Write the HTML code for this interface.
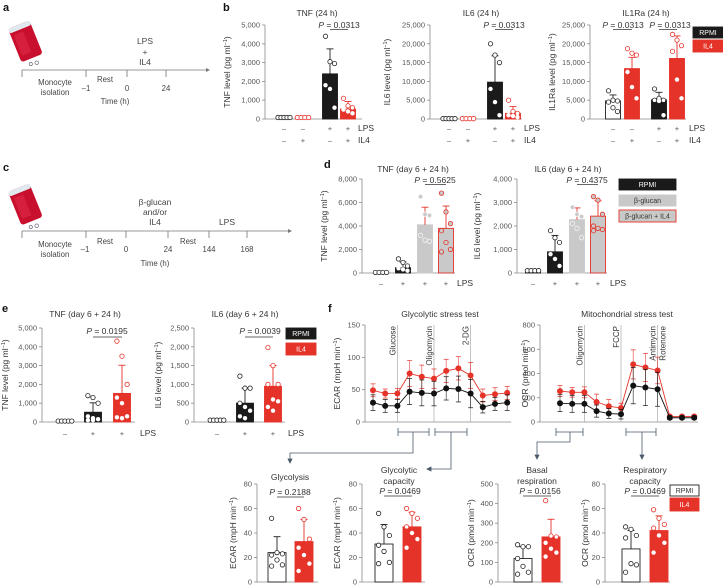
<!DOCTYPE html>
<html><head><meta charset="utf-8"><style>
html,body{margin:0;padding:0;background:#fff;}
svg{display:block;font-family:"Liberation Sans",sans-serif;}
</style></head><body>
<svg id="fig" xmlns="http://www.w3.org/2000/svg" width="723" height="585" viewBox="0 0 723 585"></svg>
<script>
// ---------- DATA ----------
const bTnfVals=[80,80,2400,530], bTnfErr=[0,0,1330,400];
const bTnfDots=[[80,80,80,80,80],[80,80,80,80],[4400,3050,2950,1800,1600,600],[1100,700,600,500,400,300]];
const bIl6Vals=[100,100,9800,1500], bIl6Err=[0,0,7000,1800];
const bIl6Dots=[[100,100,100,100,100],[100,100,100,100],[20000,17000,15000,8000,4500,1000],[5000,2000,1500,1000,800,500]];
const bIl1Vals=[4800,13400,5100,16100], bIl1Err=[1600,3000,2000,6000];
const bIl1Dots=[[7500,5000,4800,4500,3000,2000],[18700,17500,17000,12500,8500,5500],[8000,5500,5000,5000,4800,1000],[22500,21000,19500,18000,10500,5500]];
const bTicks5k=[0,1000,2000,3000,4000,5000], bTicks25k=[0,5000,10000,15000,20000,25000];
const bLps=['-','-','+','+'], bIl4=['-','+','-','+'];
const dTnfVals=[50,450,4100,3800], dTnfErr=[0,500,1500,1900];
const dTnfDots=[[50,50,50,50],[1200,900,600,400,300,200],[6500,5000,4900,3200,2800,2700],[6800,5200,4200,3600,2600,2000,1800]];
const dIl6Vals=[100,900,2270,2420], dIl6Err=[0,700,500,650];
const dIl6Dots=[[100,100,100,100],[1800,1500,1300,800,600,300],[2800,2500,2400,2100,1900,1500],[3250,3100,2500,2000,1900,1850,1800]];
const dTicksT=[0,2000,4000,6000,8000], dTicksI=[0,1000,2000,3000,4000];
const dLps=['-','+','+','+'];
const eTnfVals=[50,520,1520], eTnfErr=[0,500,1500];
const eTnfDots=[[50,50,50,50,50],[1400,1300,1000,300,200,150,100,100],[4300,3500,2000,1300,1000,300,250,200]];
const eIl6Vals=[50,500,950], eIl6Err=[0,400,550];
const eIl6Dots=[[50,50,50,50,50],[1220,900,900,500,400,300,150,100],[1980,1500,1000,1000,600,550,400,300]];
const eTicksT=[0,1000,2000,3000,4000,5000], eTicksI=[0,500,1000,1500,2000,2500];
const eLps=['-','+','+'];
const glyBlack=[30,25,25,47,45,44,52,51,44,23,28,30], glyBlackErr=[12,10,10,20,20,19,18,20,22,9,10,12];
const glyRed=[49,44,44,75,70,67,79,83,72,41,43,45], glyRedErr=[10,7,8,20,18,15,18,18,20,10,10,10];
const mitoBlack=[155,150,150,90,70,65,300,285,270,35,35,35], mitoBlackErr=[70,70,70,50,40,40,150,150,140,15,15,15];
const mitoRed=[255,245,245,165,130,115,475,450,425,45,45,45], mitoRedErr=[45,40,45,65,55,40,120,115,110,12,12,12];
const glyTicks=[0,50,100,150], mitoTicks=[0,200,400,600,800];
const gVals=[24,33], gErr=[13,18], gDots=[[52,24,23,22,18,14,13],[60,51,35,28,22,15,9]];
const gcVals=[31,45], gcErr=[16,12], gcDots=[[56,45,38,30,25,16,15],[60,56,52,45,40,35,28]];
const brVals=[120,230], brErr=[60,90], brDots=[[190,180,180,120,80,50,40],[415,235,230,200,170,150,130]];
const rcVals=[27,42], rcErr=[15,12], rcDots=[[45,43,38,36,15,14,8],[59,52,47,44,38,32,24]];
const t80=[0,20,40,60,80], t500=[0,100,200,300,400,500];

// ---------- HELPERS ----------
const NS='http://www.w3.org/2000/svg', svg=document.getElementById('fig');
const RED='#e5332a', GRAY='#c9c9c9', AX='#8a8a8a';
function mk(tag,a,p){const e=document.createElementNS(NS,tag);for(const k in a)e.setAttribute(k,a[k]);(p||svg).appendChild(e);return e;}
function tx(s,x,y,a,p){const e=mk('text',Object.assign({x:x,y:y,'font-size':8.5,fill:'#333'},a||{}),p);e.textContent=s;return e;}
function ytitle(p,main,x,y){const t=mk('text',{x:0,y:0,'font-size':8.5,fill:'#333','text-anchor':'middle',transform:`translate(${x},${y}) rotate(-90)`},p);
 
 
 t.appendChild(document.createTextNode(main));const s=mk('tspan',{'baseline-shift':'super','font-size':5.5},t);s.textContent='−1';t.appendChild(document.createTextNode(')'));}
function styleOf(s){return {wk:['#fff','#222'],wr:['#fff',RED],k:['#1a1a1a','#1a1a1a'],r:[RED,RED],g:[GRAY,GRAY],gr:[GRAY,RED]}[s];}
function fmt(v){return v.toLocaleString('en-US');}

function barChart(c){
 const g=mk('g',{});
 
 
 const sy=v=>c.y0-v/c.max*(c.y0-c.yTop);
 const ya=mk('line',{x1:c.ax,y1:c.yTop,x2:c.ax,y2:c.y0,stroke:AX,'stroke-width':0.8},g);
 
 
 const xa=mk('line',{x1:c.ax,y1:c.y0,x2:c.xEnd,y2:c.y0,stroke:AX,'stroke-width':0.8},g);
 
 
 c.ticks.forEach(v=>{const y=sy(v);mk('line',{x1:c.ax-3,y1:y,x2:c.ax,y2:y,stroke:AX,'stroke-width':0.8},g);
  const t=tx(fmt(v),c.ax-5,y+2.5,{'text-anchor':'end','font-size':7.5,fill:'#555'},g);
  
  });
 c.vals.forEach((v,i)=>{const x=c.xs[i],w=c.w,[f,s]=styleOf(c.styles[i]);
  const r=mk('rect',{x:x-w/2,y:sy(v),width:w,height:c.y0-sy(v),fill:f,stroke:s,'stroke-width':0.9},g);
  
  
  const e=c.errs[i];
  if(e>0){const ec=(c.styles[i]==='wk'||c.styles[i]==='k')?'#222':RED;
   mk('line',{x1:x,y1:sy(v),x2:x,y2:sy(v+e),stroke:ec,'stroke-width':0.9},g);
   mk('line',{x1:x-3.5,y1:sy(v+e),x2:x+3.5,y2:sy(v+e),stroke:ec,'stroke-width':0.9},g);}
  const ds=c.dots[i],n=ds.length,tiny=v<c.max*0.03;
  ds.forEach((d,j)=>{let dx=tiny?(-w/2+(j+0.5)*w/n):(((j%3)-1)*w*0.3);
   const filled=(c.styles[i]==='k'||c.styles[i]==='r')&&d<v*0.97;
   const dc=(c.styles[i]==='wk'||c.styles[i]==='k')?'#222':(c.styles[i]==='g'?'#e6e6e6':RED);
   const ci=mk('circle',{cx:x+dx,cy:sy(d),r:2.2,fill:filled?'#fff':(c.styles[i]==='g'||c.styles[i]==='gr'?GRAY:'#fff'),stroke:filled?'none':(c.styles[i]==='g'?'#f4f4f4':dc),'stroke-width':0.8},g);
   
   });
 });
 if(c.title){const t=tx(c.title,c.tx,c.ty,{'text-anchor':'middle'},g);
  if(c.title2){const t2=tx(c.title2,c.tx,c.ty+11,{'text-anchor':'middle'},g);}}
 ytitle(g,c.ytitle,c.ytx,(c.yTop+c.y0)/2);
 (c.p||[]).forEach(p=>{const x1=c.xs[p.a],x2=c.xs[p.b];
  const t=mk('text',{x:p.cx,y:p.y,'font-size':8.5,fill:'#333','text-anchor':'middle'},g);
  
  
  const it=mk('tspan',{'font-style':'italic'},t);it.textContent='P';t.appendChild(document.createTextNode(' = '+p.t));
  mk('line',{x1:x1,y1:p.y+p.ly,x2:x2,y2:p.y+p.ly,stroke:'#333','stroke-width':0.8},g);});
 (c.rows||[]).forEach(r=>{r.vals.forEach((s,i)=>{const t=tx(s==='-'?'–':'+',c.xs[i],r.y,{'text-anchor':'middle','font-size':7.5,fill:'#555'},g);
   
   });
  const l=tx(r.label,r.lx,r.y,{'font-size':8.5},g);});
}

function legend(items,x,w,name){const g=mk('g',{});
 
 
 items.forEach(it=>{const [f,s]=styleOf(it.s);mk('rect',{x:x,y:it.y,width:w,height:it.h,fill:f,stroke:s,'stroke-width':0.9},g);
  const t=tx(it.t,x+w/2,it.y+it.h/2+2.5,{'text-anchor':'middle','font-size':7,fill:(it.s==='k'||it.s==='r')?'#fff':'#333'},g);
  
  });}

function letter(s,x,y){const t=tx(s,x,y,{'font-size':11,'font-weight':'bold',fill:'#111'});}

function bag(x,y){const g=mk('g',{transform:`translate(${x},${y}) rotate(-22)`});
 
 
 mk('rect',{x:0,y:0,width:23,height:36,rx:3,fill:'#c8102e'},g);
 mk('rect',{x:0,y:0,width:23,height:5,rx:2,fill:'#dfe9ee'},g);
 mk('rect',{x:3,y:8,width:10,height:22,fill:'#e0294a',opacity:0.6},g);
 mk('circle',{cx:8,cy:41,r:1.6,fill:'none',stroke:'#667','stroke-width':0.7},g);
 mk('circle',{cx:14,cy:42,r:1.8,fill:'none',stroke:'#667','stroke-width':0.7},g);}

function timeline(name,y,x1,x2,ticks,labs){const g=mk('g',{});
 
 
 mk('line',{x1:x1,y1:y,x2:x2,y2:y,stroke:'#777','stroke-width':0.8},g);
 mk('path',{d:`M${x2+3},${y} l-4,-2 v4z`,fill:'#777'},g);
 ticks.forEach(t=>mk('line',{x1:t,y1:y,x2:t,y2:y+7,stroke:'#777','stroke-width':0.8},g));
 labs.forEach(l=>{const t=tx(l[0],l[1],l[2],{'text-anchor':'middle','font-size':l[3]||7.8,fill:'#444'},g);});}

// ---------- PANEL A ----------
letter('a',3,11);
bag(8,29);
timeline('timeline-a',70,22,207,[22,86,127,166],[['LPS',145,44,8.5],['+',145,55,8.5],['IL4',145,65,8.5],['Monocyte',55,85],['isolation',55,95],['Rest',105,82],['–1',86,91],['0',127,91],['24',166,91],['Time (h)',115,104]]);

// ---------- PANEL B ----------
letter('b',223,11);
const r4=(lx)=>[{vals:bLps,y:131,label:'LPS',lx:lx},{vals:bIl4,y:143,label:'IL4',lx:lx}];
barChart({name:'tnf-24h-chart',ax:265,xEnd:362,y0:119,yTop:25,max:5000,ticks:bTicks5k,vals:bTnfVals,errs:bTnfErr,dots:bTnfDots,xs:[284,303,330,348],w:15,styles:['wk','wr','k','r'],title:'TNF (24 h)',tx:317,ty:16,ytitle:'TNF level (pg ml',ytx:230,p:[{t:'0.0313',cx:339,y:28,a:2,b:3,ly:1.5}],rows:r4(358)});
barChart({name:'il6-24h-chart',ax:430,xEnd:522,y0:119,yTop:25,max:25000,ticks:bTicks25k,vals:bIl6Vals,errs:bIl6Err,dots:bIl6Dots,xs:[449,468,495,513],w:15,styles:['wk','wr','k','r'],title:'IL6 (24 h)',tx:481,ty:16,ytitle:'IL6 level (pg ml',ytx:390,p:[{t:'0.0313',cx:504,y:28,a:2,b:3,ly:1.5}],rows:r4(524)});
barChart({name:'il1ra-24h-chart',ax:590,xEnd:686,y0:119,yTop:25,max:25000,ticks:bTicks25k,vals:bIl1Vals,errs:bIl1Err,dots:bIl1Dots,xs:[613,632,659,677],w:15,styles:['wk','r','k','r'],title:'IL1Ra (24 h)',tx:646,ty:16,ytitle:'IL1Ra level (pg ml',ytx:555,p:[{t:'0.0313',cx:623,y:28,a:0,b:1,ly:1.5},{t:'0.0313',cx:670,y:28,a:2,b:3,ly:1.5}],rows:r4(689)});
legend([{t:'RPMI',s:'k',y:27,h:11},{t:'IL4',s:'r',y:40,h:12}],693,30,'legend-b');

// ---------- PANEL C ----------
letter('c',3,171);
bag(8,192);
timeline('timeline-c',231,22,289,[22,86,126,168,209,247],[['β-glucan',155,205,8.5],['and/or',155,215,8.5],['IL4',155,225,8.5],['LPS',227,225,8.5],['Monocyte',55,247],['isolation',55,257],['Rest',105,244],['Rest',188,244],['–1',85,252],['0',126,252],['24',168,252],['144',209,252],['168',247,252],['Time (h)',155,266]]);

// ---------- PANEL D ----------
letter('d',324,168);
barChart({name:'tnf-day6-chart',ax:362,xEnd:455,y0:273,yTop:179,max:8000,ticks:dTicksT,vals:dTnfVals,errs:dTnfErr,dots:dTnfDots,xs:[381,403,425,446],w:15,styles:['wk','k','g','gr'],title:'TNF (day 6 + 24 h)',tx:413,ty:172,ytitle:'TNF level (pg ml',ytx:327,p:[{t:'0.5625',cx:435,y:183,a:2,b:3,ly:1.5}],rows:[{vals:dLps,y:286,label:'LPS',lx:457}]});
barChart({name:'il6-day6-chart',ax:517,xEnd:607,y0:273,yTop:179,max:4000,ticks:dTicksI,vals:dIl6Vals,errs:dIl6Err,dots:dIl6Dots,xs:[533,555,577,598],w:15,styles:['wk','k','g','gr'],title:'IL6 (day 6 + 24 h)',tx:568,ty:172,ytitle:'IL6 level (pg ml',ytx:480,p:[{t:'0.4375',cx:587,y:183,a:2,b:3,ly:1.5}],rows:[{vals:dLps,y:286,label:'LPS',lx:610}]});
legend([{t:'RPMI',s:'k',y:179,h:11},{t:'β-glucan',s:'g',y:195,h:11},{t:'β-glucan + IL4',s:'gr',y:210,h:12}],619,57,'legend-d');

// ---------- PANEL E ----------
letter('e',2,312);
barChart({name:'tnf-day6-e-chart',ax:42,xEnd:135,y0:422,yTop:328,max:5000,ticks:eTicksT,vals:eTnfVals,errs:eTnfErr,dots:eTnfDots,xs:[65,93,122],w:17,styles:['wk','k','r'],title:'TNF (day 6 + 24 h)',tx:85,ty:317,ytitle:'TNF level (pg ml',ytx:8,p:[{t:'0.0195',cx:107,y:334,a:1,b:2,ly:3}],rows:[{vals:eLps,y:436,label:'LPS',lx:140}]});
barChart({name:'il6-day6-e-chart',ax:194,xEnd:285,y0:422,yTop:328,max:2500,ticks:eTicksI,vals:eIl6Vals,errs:eIl6Err,dots:eIl6Dots,xs:[217,245,273],w:17,styles:['wk','k','r'],title:'IL6 (day 6 + 24 h)',tx:245,ty:317,ytitle:'IL6 level (pg ml',ytx:161,p:[{t:'0.0039',cx:260,y:334,a:1,b:2,ly:3}],rows:[{vals:eLps,y:436,label:'LPS',lx:288}]});
legend([{t:'RPMI',s:'k',y:328,h:11},{t:'IL4',s:'r',y:343,h:12}],286,30,'legend-e');

// ---------- PANEL F line charts ----------
letter('f',328,312);
function lineChart(c){const g=mk('g',{});
 
 
 const sy=v=>c.y0-v/c.max*(c.y0-c.yTop), sx=i=>c.x0+i*c.dx;
 const ya=mk('line',{x1:c.ax,y1:c.yTop,x2:c.ax,y2:c.y0,stroke:AX,'stroke-width':0.8},g);
 
 
 const xa=mk('line',{x1:c.ax,y1:c.y0,x2:sx(11)+4,y2:c.y0,stroke:AX,'stroke-width':0.8},g);
 
 
 c.ticks.forEach(v=>{const y=sy(v);mk('line',{x1:c.ax-3,y1:y,x2:c.ax,y2:y,stroke:AX,'stroke-width':0.8},g);
  const t=tx(fmt(v),c.ax-5,y+2.5,{'text-anchor':'end','font-size':7.5,fill:'#555'},g);});
 c.inj.forEach(j=>{const x=sx(j.i);mk('line',{x1:x,y1:c.yTop,x2:x,y2:c.y0,stroke:'#aaa','stroke-width':0.7},g);
  j.labels.forEach(l=>{const t=mk('text',{x:0,y:0,'font-size':8,fill:'#333','text-anchor':'end',transform:`translate(${x+l.dx},${c.yTop+1}) rotate(-90)`},g);t.textContent=l.t;
   
   });});
 c.series.forEach(s=>{const pts=s.v.map((v,i)=>sx(i)+','+sy(v)).join(' ');
  const pl=mk('polyline',{points:pts,fill:'none',stroke:s.c,'stroke-width':0.9},g);
  
  
  s.v.forEach((v,i)=>{const x=sx(i);mk('line',{x1:x,y1:sy(v-s.e[i]),x2:x,y2:sy(v+s.e[i]),stroke:s.c,'stroke-width':0.7,opacity:0.8},g);
   mk('line',{x1:x-2.5,y1:sy(v+s.e[i]),x2:x+2.5,y2:sy(v+s.e[i]),stroke:s.c,'stroke-width':0.7},g);
   mk('line',{x1:x-2.5,y1:sy(v-s.e[i]),x2:x+2.5,y2:sy(v-s.e[i]),stroke:s.c,'stroke-width':0.7},g);
   const ci=mk('circle',{cx:x,cy:sy(v),r:3,fill:s.c},g);
   
   });});
 const t=tx(c.title,c.tx,317,{'text-anchor':'middle'},g);
 ytitle(g,c.ytitle,c.ytx,(c.yTop+c.y0)/2);}
lineChart({name:'glycolytic-stress-test',ax:365,x0:373,dx:12.2,y0:422,yTop:325,max:150,ticks:glyTicks,title:'Glycolytic stress test',tx:440,ytitle:'ECAR (mpH min',ytx:340,
 inj:[{i:2,labels:[{t:'Glucose',dx:-2}]},{i:5,labels:[{t:'Oligomycin',dx:-2}]},{i:8,labels:[{t:'2-DG',dx:-2}]}],
 series:[{n:'il4',c:RED,v:glyRed,e:glyRedErr},{n:'rpmi',c:'#111',v:glyBlack,e:glyBlackErr}]});
lineChart({name:'mitochondrial-stress-test',ax:540,x0:560,dx:12.2,y0:422,yTop:325,max:800,ticks:mitoTicks,title:'Mitochondrial stress test',tx:627,ytitle:'OCR (pmol min',ytx:528,
 inj:[{i:2,labels:[{t:'Oligomycin',dx:-2}]},{i:5,labels:[{t:'FCCP',dx:-2}]},{i:8,labels:[{t:'Antimycin',dx:-2},{t:'Rotenone',dx:8}]}],
 series:[{n:'il4',c:RED,v:mitoRed,e:mitoRedErr},{n:'rpmi',c:'#111',v:mitoBlack,e:mitoBlackErr}]});

// brackets + arrows
(function(){const g=mk('g',{stroke:'#4a5a6a','stroke-width':0.8,fill:'none'});
 
 
 [[398,429],[435,467],[556,583],[626,656]].forEach(b=>{mk('path',{d:`M${b[0]},428 v8 M${b[0]},432 H${b[1]} M${b[1]},428 v8`},g);});
 mk('path',{d:'M413,432 V453 H290 V461'},g);
 mk('path',{d:'M451,432 V469 H430'},g);
 mk('path',{d:'M570,432 V442 H537 V457'},g);
 mk('path',{d:'M642,432 V457'},g);
 [[290,463,'d'],[537,459,'d'],[642,459,'d'],[427,469,'l']].forEach(a=>{const p=a[2]==='d'?`M${a[0]-2},${a[1]-4} L${a[0]},${a[1]} L${a[0]+2},${a[1]-4}z`:`M${a[0]+4},${a[1]-2} L${a[0]},${a[1]} L${a[0]+4},${a[1]+2}z`;mk('path',{d:p,fill:'#4a5a6a'},g);});})();

// ---------- Bottom bar charts ----------
barChart({name:'glycolysis-chart',ax:257,xEnd:318,y0:582,yTop:484,max:80,ticks:t80,vals:gVals,errs:gErr,dots:gDots,xs:[277,304],w:18,styles:['wk','r'],title:'Glycolysis',tx:290,ty:480,ytitle:'ECAR (mpH min',ytx:236,p:[{t:'0.2188',cx:290,y:495,a:0,b:1,ly:2}]});
barChart({name:'glycolytic-capacity-chart',ax:362,xEnd:425,y0:582,yTop:484,max:80,ticks:t80,vals:gcVals,errs:gcErr,dots:gcDots,xs:[384,412],w:18,styles:['wk','r'],title:'Glycolytic',title2:'capacity',tx:399,ty:473,ytitle:'ECAR (mpH min',ytx:340,p:[{t:'0.0469',cx:400,y:494,a:0,b:1,ly:2}]});
barChart({name:'basal-respiration-chart',ax:498,xEnd:563,y0:582,yTop:484,max:500,ticks:t500,vals:brVals,errs:brErr,dots:brDots,xs:[523,551],w:18,styles:['wk','r'],title:'Basal',title2:'respiration',tx:537,ty:473,ytitle:'OCR (pmol min',ytx:474,p:[{t:'0.0156',cx:540,y:494,a:0,b:1,ly:2}]});
barChart({name:'respiratory-capacity-chart',ax:605,xEnd:670,y0:582,yTop:484,max:80,ticks:t80,vals:rcVals,errs:rcErr,dots:rcDots,xs:[631,659],w:18,styles:['wk','r'],title:'Respiratory',title2:'capacity',tx:645,ty:473,ytitle:'OCR (pmol min',ytx:588,p:[{t:'0.0469',cx:645,y:494,a:0,b:1,ly:2}]});
legend([{t:'RPMI',s:'wk',y:485,h:11},{t:'IL4',s:'r',y:498,h:13}],670,29,'legend-f');
</script>
</body></html>
